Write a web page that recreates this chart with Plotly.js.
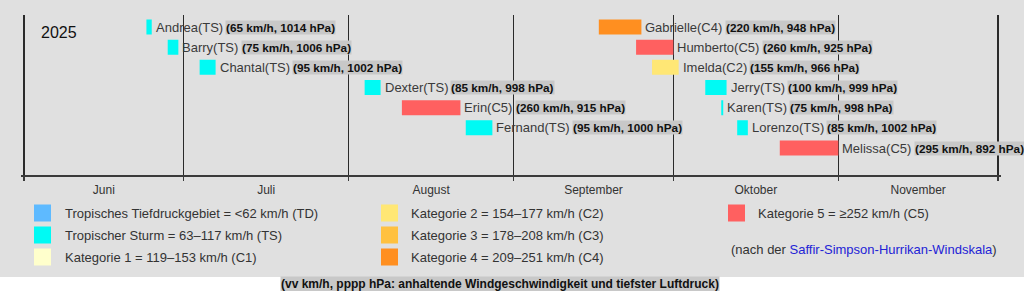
<!DOCTYPE html>
<html><head><meta charset="utf-8">
<script src="https://cdn.plot.ly/plotly-3.0.1.min.js"></script>
<style>html,body{margin:0;padding:0;background:#fff}#chart{width:1024px;height:291px}</style>
</head><body><div id="chart"></div>
<script>
const storms = ['Andrea','Barry','Chantal','Dexter','Erin','Fernand','Gabrielle','Humberto','Imelda','Jerry','Karen','Lorenzo','Melissa'];
const categories = ['TS','TS','TS','TS','C5','TS','C4','C5','C2','TS','TS','TS','C5'];
const winds = [65,75,95,85,260,95,220,260,155,100,75,85,295];
const pressures = [1014,1006,1002,998,915,1000,948,925,966,999,998,1002,892];
const starts = ['2025-06-24','2025-06-28','2025-07-04','2025-08-04','2025-08-11','2025-08-23','2025-09-17','2025-09-24','2025-09-27','2025-10-07','2025-10-10','2025-10-13','2025-10-21'];
const ends = ['2025-06-25','2025-06-30','2025-07-07','2025-08-07','2025-08-22','2025-08-28','2025-09-25','2025-10-01','2025-10-02','2025-10-11','2025-10-10 09:00','2025-10-15','2025-11-01'];
const rows = [1,2,3,4,5,6,1,2,3,4,5,6,7];
const monthLabels = ['Juni','Juli','August','September','Oktober','November'];
const monthMids = ['2025-06-16','2025-07-16 12:00','2025-08-16 12:00','2025-09-16','2025-10-16 12:00','2025-11-16'];
const legendCodes = ['TD','TS','C1','C2','C3','C4','C5'];
const legendColors = ['#5ebaff','#00faf4','#ffffcc','#ffe775','#ffc140','#ff8f20','#ff6060'];
const legendLabels = ['Tropisches Tiefdruckgebiet = &lt;62 km/h (TD)','Tropischer Sturm = 63–117 km/h (TS)','Kategorie 1 = 119–153 km/h (C1)','Kategorie 2 = 154–177 km/h (C2)','Kategorie 3 = 178–208 km/h (C3)','Kategorie 4 = 209–251 km/h (C4)','Kategorie 5 = ≥252 km/h (C5)'];
const yearLabel = '2025';
const sourceNote = '(nach der <span style="color:#2323d6">Saffir-Simpson-Hurrikan-Windskala</span>)';
const caption = '(vv km/h, pppp hPa: anhaltende Windgeschwindigkeit und tiefster Luftdruck)';

const W = 1024, H = 291;
const px = v => v / W;
const py = v => 1 - v / H;
const toMs = s => new Date(s.replace(' ', 'T') + (s.length > 10 ? ':00Z' : 'T00:00:00Z')).getTime();

const colorOf = c => legendColors[legendCodes.indexOf(c)];
const durations = starts.map((s, i) => toMs(ends[i]) - toMs(s));

const FONT = '"Liberation Sans", Arial, sans-serif';
const canvas = document.createElement('canvas');
const ctx = canvas.getContext('2d');
function textWidth(t, font) { ctx.font = font; return ctx.measureText(t).width; }

const trace = {
  type: 'bar', orientation: 'h',
  base: starts, x: durations, y: rows,
  width: 0.74,
  marker: { color: categories.map(colorOf), line: { width: 0 } },
  hoverinfo: 'skip', showlegend: false
};

const annotations = [];
storms.forEach((n, i) => {
  const name = n + '(' + categories[i] + ')';
  annotations.push({
    x: ends[i], y: rows[i], xref: 'x', yref: 'y', xanchor: 'left', yanchor: 'middle',
    xshift: 3, showarrow: false, text: name, borderpad: 0,
    font: { family: FONT, size: 13, color: '#3a3a3a' }
  });
  const w = textWidth(name, '13px ' + FONT);
  annotations.push({
    x: ends[i], y: rows[i], xref: 'x', yref: 'y', xanchor: 'left', yanchor: 'middle',
    xshift: 3 + w + 3, showarrow: false, borderpad: 0, bgcolor: '#c8c8c8',
    text: '<b>(' + winds[i] + ' km/h, ' + pressures[i] + ' hPa)</b>',
    font: { family: FONT, size: 11.75, color: '#111' }
  });
});

annotations.push({
  x: px(39), y: py(32), xref: 'paper', yref: 'paper', xanchor: 'left', yanchor: 'middle',
  showarrow: false, text: yearLabel, font: { family: FONT, size: 16, color: '#111' }
});

const shapes = [{
  type: 'rect', xref: 'paper', yref: 'paper', x0: 0, x1: 1, y0: py(277), y1: 1,
  fillcolor: '#e0e0e0', line: { width: 0 }, layer: 'below'
}];

const sqX = [34, 381, 728], txX = [63, 409, 756], rowY = [213, 235, 257];
legendLabels.forEach((lab, i) => {
  const col = Math.floor(i / 3), r = i % 3;
  shapes.push({
    type: 'rect', xref: 'paper', yref: 'paper',
    x0: px(sqX[col]), x1: px(sqX[col] + 17), y0: py(rowY[r] + 8.5), y1: py(rowY[r] - 8.5),
    fillcolor: legendColors[i], line: { width: 0 }
  });
  annotations.push({
    x: px(txX[col]), y: py(rowY[r]), xref: 'paper', yref: 'paper', xanchor: 'left', yanchor: 'middle',
    showarrow: false, text: lab, font: { family: FONT, size: 13, color: '#333' }
  });
});

annotations.push({
  x: px(729), y: py(250), xref: 'paper', yref: 'paper', xanchor: 'left', yanchor: 'middle',
  showarrow: false, text: sourceNote, font: { family: FONT, size: 13, color: '#333' }
});

annotations.push({
  x: px(500), y: py(283.5), xref: 'paper', yref: 'paper', xanchor: 'center', yanchor: 'middle',
  showarrow: false, text: '<b>' + caption + '</b>', bgcolor: '#c8c8c8', borderpad: 0,
  font: { family: FONT, size: 12, color: '#111' }
});

const dayPx = 974 / 183;
const layout = {
  width: W, height: H,
  margin: { l: 0, r: 0, t: 0, b: 0, pad: 0 },
  paper_bgcolor: '#ffffff', plot_bgcolor: 'rgba(0,0,0,0)',
  showlegend: false,
  font: { family: FONT, color: '#333' },
  xaxis: {
    type: 'date', domain: [px(24 - dayPx / 2), px(998 + dayPx / 2)],
    range: ['2025-05-31 12:00', '2025-12-01 12:00'],
    tickmode: 'array', tickvals: monthMids, ticktext: monthLabels,
    ticks: '', showgrid: false, zeroline: false,
    showline: true, linecolor: '#3a3a3a', linewidth: 2,
    ticklabelstandoff: 3,
    tickfont: { family: FONT, size: 12, color: '#333' },
    minor: { tick0: '2025-06-01', dtick: 'M1', ticks: 'outside', ticklen: 4, tickwidth: 1.5, tickcolor: '#3a3a3a',
             showgrid: true, gridcolor: '#2a2a2a', gridwidth: 1.5 },
    fixedrange: true
  },
  yaxis: {
    domain: [1 - 175 / H, 1 - 15 / H],
    range: [8.339, 0.405], showgrid: false, zeroline: false, showline: false,
    showticklabels: false, ticks: '', fixedrange: true
  },
  shapes: shapes,
  annotations: annotations
};

Plotly.newPlot('chart', [trace], layout, { staticPlot: true, displayModeBar: false });
</script>
</body></html>
